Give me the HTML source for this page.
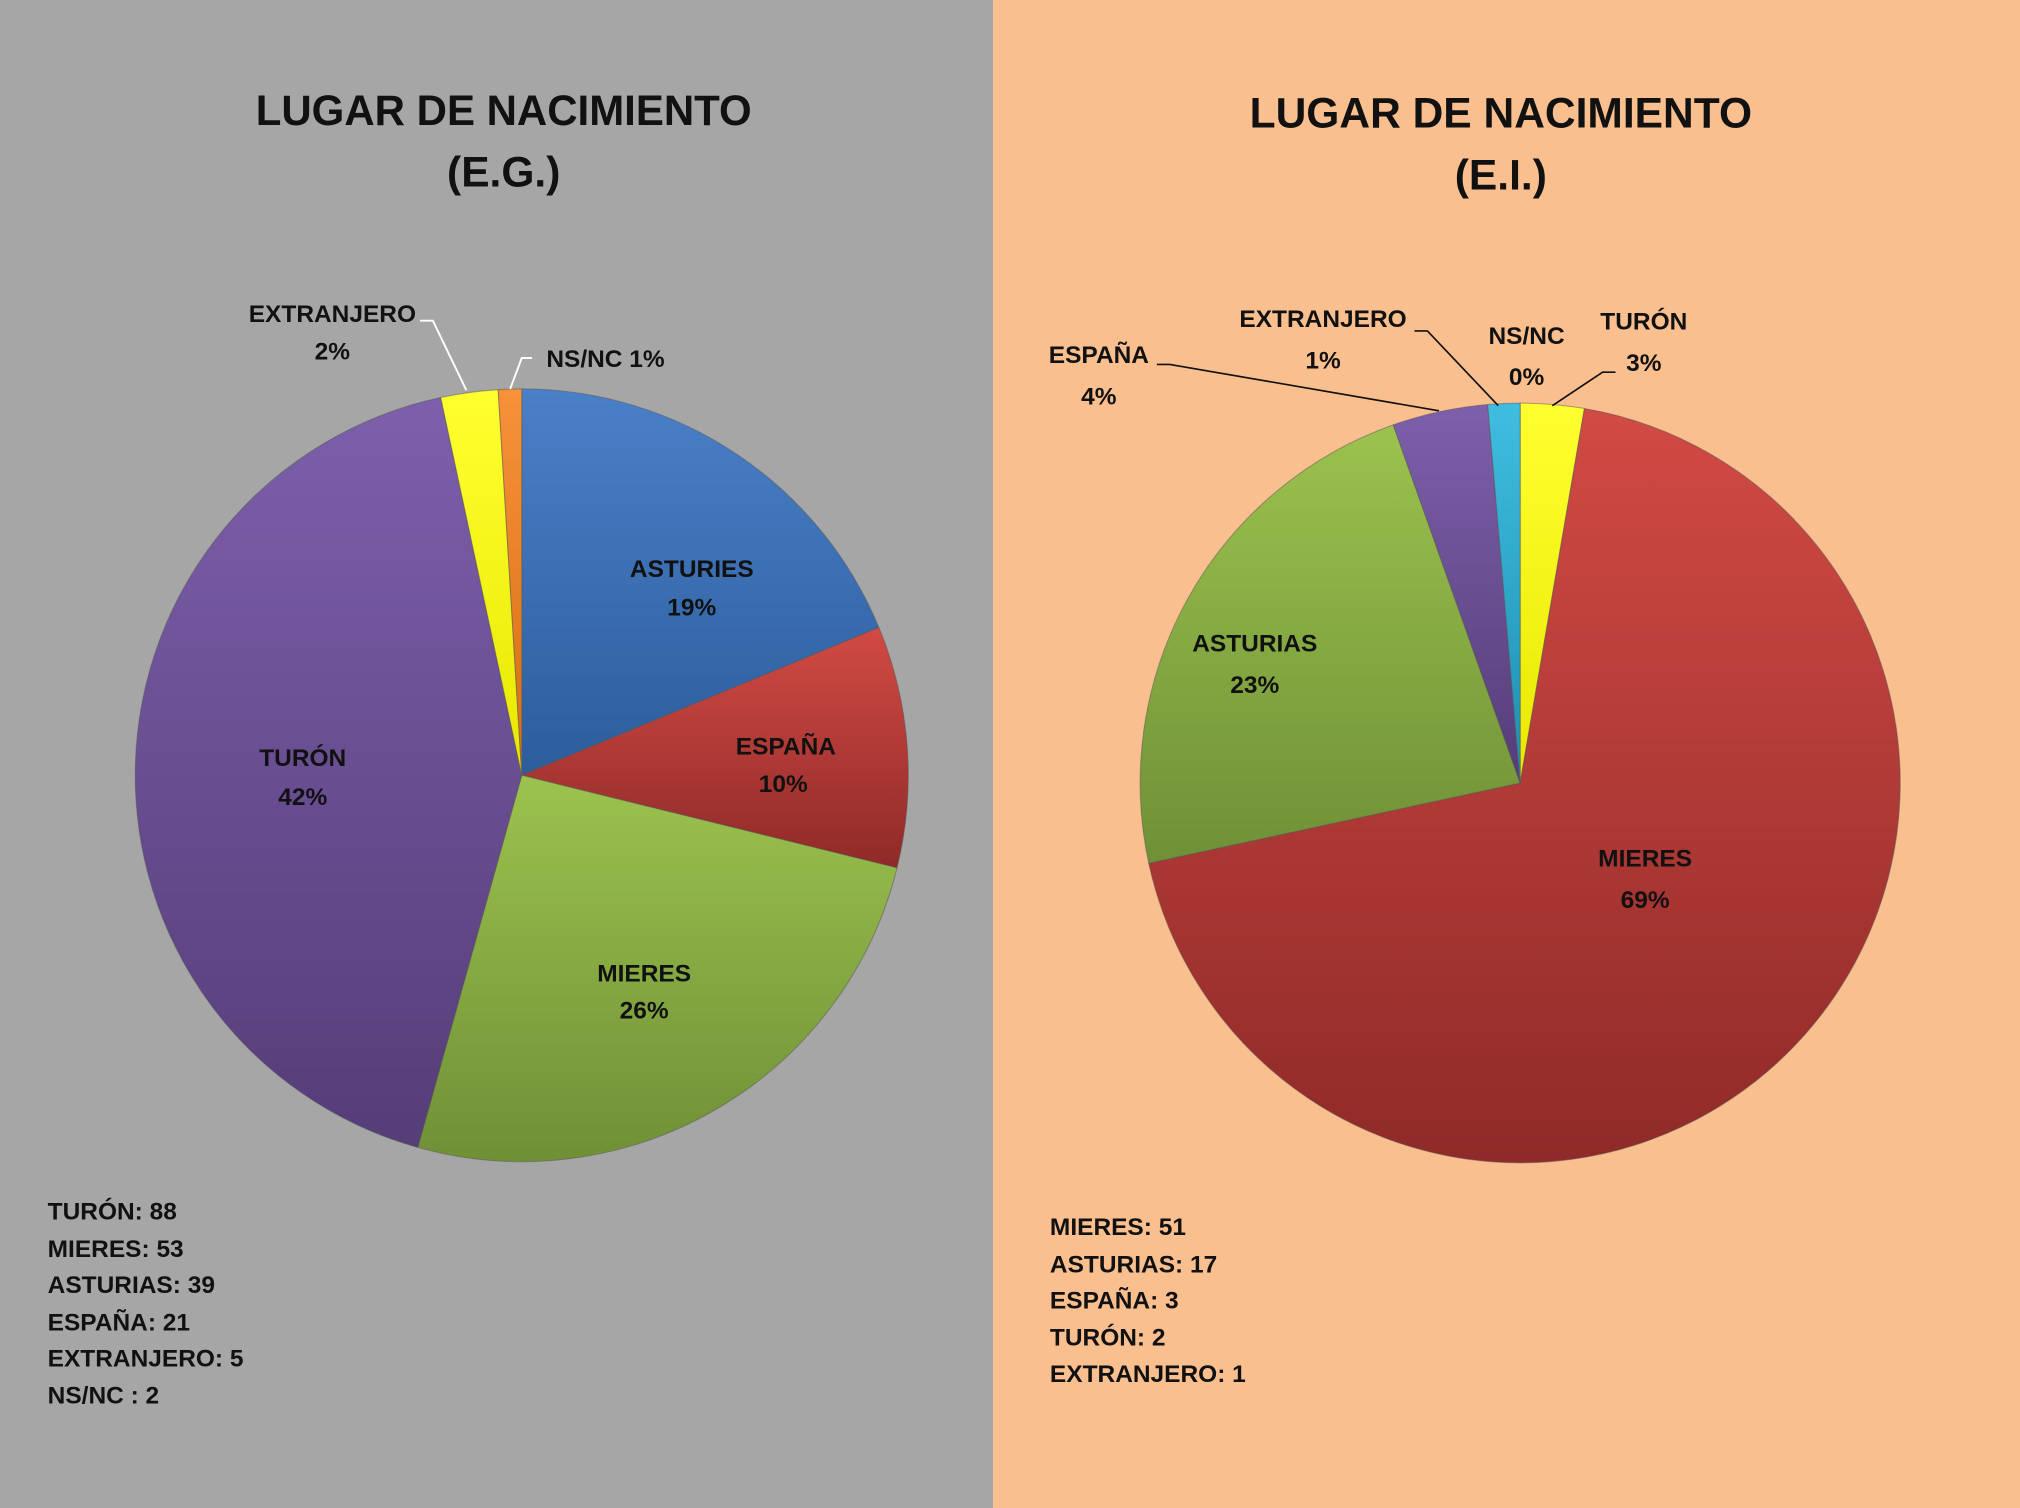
<!DOCTYPE html>
<html><head><meta charset="utf-8"><style>
html,body{margin:0;padding:0;}
svg{display:block;}
text{font-family:"Liberation Sans",sans-serif;font-weight:bold;fill:#111;}
</style></head><body>
<svg width="2020" height="1508" viewBox="0 0 1568 1171" preserveAspectRatio="none" xmlns="http://www.w3.org/2000/svg">
<defs>
<linearGradient id="gb" x1="0" y1="0" x2="0" y2="1"><stop offset="0" stop-color="#4a80c8"/><stop offset="1" stop-color="#2c5d9c"/></linearGradient>
<linearGradient id="gr" x1="0" y1="0" x2="0" y2="1"><stop offset="0" stop-color="#d24a44"/><stop offset="1" stop-color="#8f2a28"/></linearGradient>
<linearGradient id="gg" x1="0" y1="0" x2="0" y2="1"><stop offset="0" stop-color="#9cc24e"/><stop offset="1" stop-color="#6f9036"/></linearGradient>
<linearGradient id="gp" x1="0" y1="0" x2="0" y2="1"><stop offset="0" stop-color="#7d5fab"/><stop offset="1" stop-color="#553d78"/></linearGradient>
<linearGradient id="gy" x1="0" y1="0" x2="0" y2="1"><stop offset="0" stop-color="#ffff30"/><stop offset="1" stop-color="#e8e800"/></linearGradient>
<linearGradient id="go" x1="0" y1="0" x2="0" y2="1"><stop offset="0" stop-color="#f7923a"/><stop offset="1" stop-color="#d86e10"/></linearGradient>
<linearGradient id="gc" x1="0" y1="0" x2="0" y2="1"><stop offset="0" stop-color="#3fbde0"/><stop offset="1" stop-color="#1e8fb0"/></linearGradient>
</defs>
<rect x="0" y="0" width="771" height="1171" fill="#a6a6a6"/>
<rect x="771" y="0" width="797" height="1171" fill="#fabf8f"/>

<!-- titles -->
<text x="391" y="97" font-size="33" text-anchor="middle" textLength="385" lengthAdjust="spacingAndGlyphs">LUGAR DE NACIMIENTO</text>
<text x="391" y="145" font-size="33" text-anchor="middle">(E.G.)</text>
<text x="1165" y="99" font-size="33" text-anchor="middle" textLength="390" lengthAdjust="spacingAndGlyphs">LUGAR DE NACIMIENTO</text>
<text x="1165" y="147" font-size="33" text-anchor="middle">(E.I.)</text>

<!-- left pie -->
<g stroke="#555" stroke-width="0.8" stroke-opacity="0.5">
<path d="M405,602 L405,302 A300,300 0 0 1 682.2,487.2 Z" fill="url(#gb)"/>
<path d="M405,602 L682.2,487.2 A300,300 0 0 1 696.3,673.9 Z" fill="url(#gr)"/>
<path d="M405,602 L696.3,673.9 A300,300 0 0 1 324.3,891 Z" fill="url(#gg)"/>
<path d="M405,602 L324.3,891 A300,300 0 0 1 342.1,308.7 Z" fill="url(#gp)"/>
<path d="M405,602 L342.1,308.7 A300,300 0 0 1 386.7,302.6 Z" fill="url(#gy)"/>
<path d="M405,602 L386.7,302.6 A300,300 0 0 1 405,302 Z" fill="url(#go)"/>
</g>
<g font-size="19" text-anchor="middle">
<text x="537" y="448">ASTURIES</text><text x="537" y="478">19%</text>
<text x="610" y="586">ESPAÑA</text><text x="608" y="615">10%</text>
<text x="500" y="762">MIERES</text><text x="500" y="791">26%</text>
<text x="235" y="595">TURÓN</text><text x="235" y="625">42%</text>
<text x="258" y="250">EXTRANJERO</text><text x="258" y="279">2%</text>
<text x="470" y="285">NS/NC 1%</text>
</g>
<polyline points="326,249 336,249 362,303" fill="none" stroke="#fff" stroke-width="1.5"/>
<polyline points="413,278 405,278 396,302" fill="none" stroke="#fff" stroke-width="1.5"/>

<!-- right pie -->
<g stroke="#555" stroke-width="0.8" stroke-opacity="0.5">
<path d="M1180,608 L1180,313 A295,295 0 0 1 1229.9,317.2 Z" fill="url(#gy)"/>
<path d="M1180,608 L1229.9,317.2 A295,295 0 1 1 891.7,670.3 Z" fill="url(#gr)"/>
<path d="M1180,608 L891.7,670.3 A295,295 0 0 1 1081.5,329.9 Z" fill="url(#gg)"/>
<path d="M1180,608 L1081.5,329.9 A295,295 0 0 1 1154.8,314.1 Z" fill="url(#gp)"/>
<path d="M1180,608 L1154.8,314.1 A295,295 0 0 1 1180,313 Z" fill="url(#gc)"/>
</g>
<g font-size="19" text-anchor="middle">
<text x="1277" y="673">MIERES</text><text x="1277" y="705">69%</text>
<text x="974" y="506">ASTURIAS</text><text x="974" y="538">23%</text>
<text x="853" y="282">ESPAÑA</text><text x="853" y="314">4%</text>
<text x="1027" y="254">EXTRANJERO</text><text x="1027" y="286">1%</text>
<text x="1185" y="267">NS/NC</text><text x="1185" y="299">0%</text>
<text x="1276" y="256">TURÓN</text><text x="1276" y="288">3%</text>
</g>
<g fill="none" stroke="#111" stroke-width="1.3">
<polyline points="898,283 908,283 1117,319"/>
<polyline points="1098,257 1108,257 1163,315"/>
<polyline points="1254,289 1244,289 1205,315"/>
</g>

<!-- counts -->
<g font-size="19">
<text x="37" y="947">TURÓN: 88</text>
<text x="37" y="976">MIERES: 53</text>
<text x="37" y="1004">ASTURIAS: 39</text>
<text x="37" y="1033">ESPAÑA: 21</text>
<text x="37" y="1061">EXTRANJERO: 5</text>
<text x="37" y="1090">NS/NC : 2</text>
<text x="815" y="959">MIERES: 51</text>
<text x="815" y="988">ASTURIAS: 17</text>
<text x="815" y="1016">ESPAÑA: 3</text>
<text x="815" y="1045">TURÓN: 2</text>
<text x="815" y="1073">EXTRANJERO: 1</text>
</g>
</svg>
</body></html>
